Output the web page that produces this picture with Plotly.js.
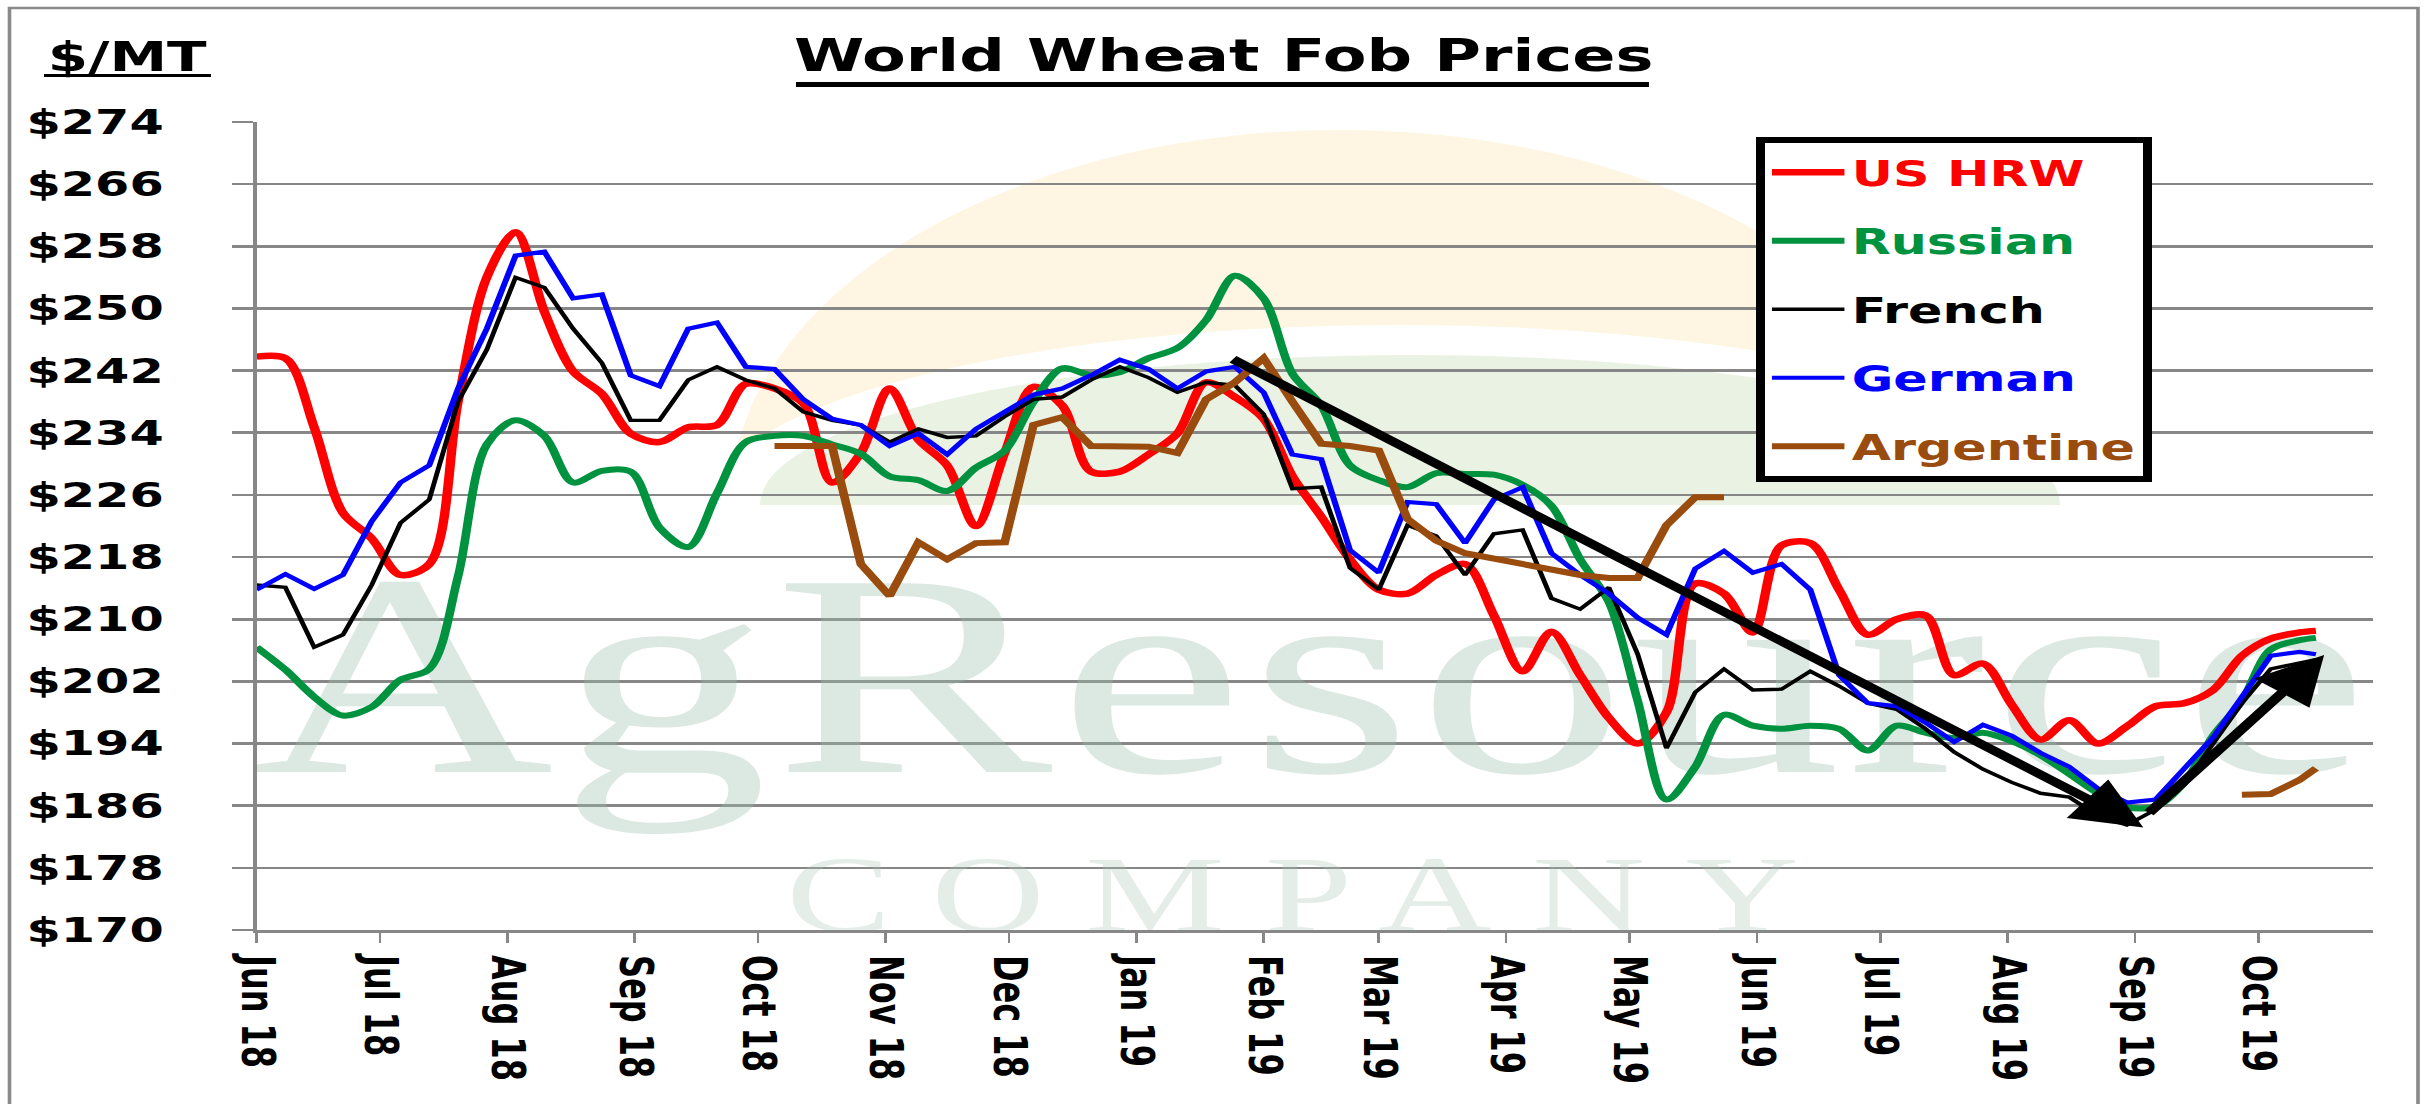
<!DOCTYPE html>
<html><head><meta charset="utf-8">
<script src="https://cdn.plot.ly/plotly-3.0.1.min.js"></script>
<style>
html,body{margin:0;padding:0;background:#fff;overflow:hidden;}
#wrap{width:2430px;height:1104px;overflow:hidden;}
#chart{width:1676px;height:1104px;transform:scaleX(1.449881);transform-origin:0 0;}
</style></head><body><div id="wrap"><div id="chart"></div></div>
<script>
// ---------------- data ----------------
const weeks = ['2018-06-01','2018-06-08','2018-06-15','2018-06-22','2018-06-29','2018-07-06','2018-07-13','2018-07-20','2018-07-27','2018-08-03',
'2018-08-10','2018-08-17','2018-08-24','2018-08-31','2018-09-07','2018-09-14','2018-09-21','2018-09-28','2018-10-05','2018-10-12',
'2018-10-19','2018-10-26','2018-11-02','2018-11-09','2018-11-16','2018-11-23','2018-11-30','2018-12-07','2018-12-14','2018-12-21',
'2018-12-28','2019-01-04','2019-01-11','2019-01-18','2019-01-25','2019-02-01','2019-02-08','2019-02-15','2019-02-22','2019-03-01',
'2019-03-08','2019-03-15','2019-03-22','2019-03-29','2019-04-05','2019-04-12','2019-04-19','2019-04-26','2019-05-03','2019-05-10',
'2019-05-17','2019-05-24','2019-05-31','2019-06-07','2019-06-14','2019-06-21','2019-06-28','2019-07-05','2019-07-12','2019-07-19',
'2019-07-26','2019-08-02','2019-08-09','2019-08-16','2019-08-23','2019-08-30','2019-09-06','2019-09-13','2019-09-20','2019-09-27',
'2019-10-04','2019-10-11','2019-10-15'];

const usHRW = [243.8,243.6,234.7,223.7,220.4,215.7,217.1,238,254,259.8,
249.6,241.9,239,233.9,232.8,234.7,235,240.3,239.7,237.8,
227.6,231.4,239.7,233.1,229.8,222,231.4,239.9,237.5,229,
229,231.2,233.9,240.5,238.6,235.8,228.4,223.2,217.7,213.8,
213.3,215.7,217.1,210.5,203.3,208.4,202.8,197.3,194,198,
214.6,213.3,208.3,219.5,219.8,213.8,208,210,210.5,202.8,
204.3,199,194.5,197,194,196.2,198.8,199.2,200.9,205.3,
207.5,208.3,208.5];

const russian = [206.4,203.5,200,197.6,198.7,202.2,203.6,215.5,232.5,235.6,
233.6,227.6,229.1,229,221.8,219.3,226.2,232.8,233.6,233.6,
232.5,231.3,228.4,227.9,226.5,229.5,231.7,238,242.3,241.4,
241.8,243.6,244.9,248.5,254.2,251.3,241.6,237.5,229.8,227.9,
227,228.8,228.7,228.6,227.3,224.6,217.7,212.2,199.5,186.8,
191,197.7,196.3,195.9,196.3,195.9,193.1,196.3,195.4,194.7,
195.4,194.3,192.5,190.1,187.6,185.8,185.9,189,195,199.5,
206.1,207.3,207.6];

const french = [214.4,214.1,206.4,208,214.4,222.4,225.4,238,244.7,254,
252.7,247.4,243,235.6,235.6,240.8,242.5,240.8,239.7,236.7,
235.6,235,232.8,234.5,233.4,233.6,236.1,238.3,238.6,240.8,
242.5,241.1,239.2,240.5,240.1,236.4,226.8,227,216.6,213.8,
222.1,220.7,215.7,221,221.5,212.7,211.3,214.1,205.5,193.4,
200.6,203.6,200.9,201,203.3,201.4,199.2,198.4,195.9,192.9,
190.7,189,187.6,187.1,184.7,183.5,185.5,188.7,194,199.2,
203.6,204.4,204.8];

const german = [213.8,215.8,213.9,215.7,222.6,227.6,229.8,239.7,247.4,256.8,
257.3,251.3,251.8,241.4,240,247.4,248.2,242.5,242.2,238.3,
235.8,235,232.3,233.9,231.2,234.5,236.7,238.9,239.7,241.4,
243.4,242.2,239.7,241.9,242.5,239.2,231.2,230.6,218.9,216,
225.1,224.8,219.8,225.4,227,218.5,215.7,213.3,210.2,208,
216.5,218.8,216,217.1,213.8,202.8,199.2,198.8,196.7,194.2,
196.4,195,192.8,191,188.2,186.4,186.8,190.8,194.8,200,
205.3,205.8,205.5];

const argentine = [null,null,null,null,null,null,null,null,null,null,
null,null,null,null,null,null,null,null,232.3,232.3,
232.3,217.1,213,219.9,217.7,219.8,219.9,235,236,232.3,
232.3,232.2,231.4,238.3,240.5,243.6,238,232.6,232.3,231.7,
222.9,220.1,218.5,217.8,217.1,216.3,215.7,215.3,215.3,222.1,
225.7,225.7,null,null,null,null,null,null,null,null,
null,null,null,null,null,null,null,null,null,187.4,
187.5,189.3,190.8];

const seriesNames = ['US HRW','Russian','French','German','Argentine'];
const seriesColors = ['#FF0000','#00923F','#000000','#0000FF','#994C0D'];

const trendDownDates = ['2019-01-24','2019-09-03'];
const trendDownVals = [243.6,183.2];
const trendUpDates = ['2019-09-04','2019-10-17'];
const trendUpVals = [184.9,205.4];

const yTicks = [170,178,186,194,202,210,218,226,234,242,250,258,266,274];
const yLabels = ['$170','$178','$186','$194','$202','$210','$218','$226','$234','$242','$250','$258','$266','$274'];
const monthTicks = ['2018-06-01','2018-07-01','2018-08-01','2018-09-01','2018-10-01','2018-11-01','2018-12-01','2019-01-01','2019-02-01','2019-03-01','2019-04-01','2019-05-01','2019-06-01','2019-07-01','2019-08-01','2019-09-01','2019-10-01'];
const monthLabels = ['Jun 18','Jul 18','Aug 18','Sep 18','Oct 18','Nov 18','Dec 18','Jan 19','Feb 19','Mar 19','Apr 19','May 19','Jun 19','Jul 19','Aug 19','Sep 19','Oct 19'];

// background logo (watermark), one text block: brand line + company line
const logoWords = ['AgResource','COMPANY'];
const logoDate = ['2019-02-13'];
const logoVal = [184.05];

// ---------------- geometry helpers (layout only) ----------------
const W = 1676, H = 1104, S = 2430 / W;
const ML = 177, MR = 39, MT = 122, MB = 174;
const PW = W - ML - MR, PH = H - MT - MB;
const px = fx => (fx / S - ML) / PW;
const py = fy => 1 - (fy - MT) / PH;
function dome(cx, cy, rx, ry) {
  const k = 0.5523;
  return 'M' + px(cx - rx) + ',' + py(cy) +
    ' C' + px(cx - rx) + ',' + py(cy - k * ry) + ' ' + px(cx - k * rx) + ',' + py(cy - ry) + ' ' + px(cx) + ',' + py(cy - ry) +
    ' C' + px(cx + k * rx) + ',' + py(cy - ry) + ' ' + px(cx + rx) + ',' + py(cy - k * ry) + ' ' + px(cx + rx) + ',' + py(cy) + ' Z';
}

// ---------------- traces ----------------
const allVals = [usHRW, russian, french, german, argentine];
const widths = [6.5, 6, 3.4, 4.2, 6];
const shapesLine = ['spline', 'spline', 'linear', 'linear', 'linear'];

const logoText = '<span style="font-size:288px;letter-spacing:4px;color:rgba(155,189,172,0.35)">' + logoWords[0] + '</span><br>' +
  '<span style="font-size:108px;letter-spacing:28px;color:rgba(165,195,178,0.30)">' + logoWords[1] + '</span>';

const traces = [{
  type: 'scatter', mode: 'text', x: logoDate, y: logoVal, text: [logoText],
  textposition: 'middle center', cliponaxis: false, hoverinfo: 'skip', showlegend: false,
  textfont: { family: 'Liberation Serif', size: 122.3, color: '#A5C3B2' }
}];
allVals.forEach((vals, i) => {
  traces.push({
    type: 'scatter', mode: 'lines', x: weeks, y: vals,
    name: '<span style="color:' + seriesColors[i] + '">' + seriesNames[i] + '</span>',
    legendgroup: 'g' + i, connectgaps: false,
    line: { color: seriesColors[i], width: widths[i], shape: shapesLine[i], smoothing: 0.9 },
    hoverinfo: 'skip'
  });
});

const arrowStyle = { xref: 'x', yref: 'y', axref: 'x', ayref: 'y', text: '', showarrow: true,
  arrowhead: 2, arrowsize: 1.2, arrowwidth: 8, arrowcolor: '#000', standoff: 0, startstandoff: 0 };

const layout = {
  width: W, height: H,
  margin: { l: ML, r: MR, t: MT, b: MB },
  paper_bgcolor: '#fff', plot_bgcolor: 'rgba(0,0,0,0)',
  title: { text: '<b>World Wheat Fob Prices</b>', font: { family: 'DejaVu Sans', size: 44, color: '#000' },
    xref: 'container', x: 844 / W, xanchor: 'center', yref: 'container', y: 1 - 56 / H, yanchor: 'middle' },
  xaxis: { type: 'date', range: ['2018-06-01', '2019-10-29'], tickmode: 'array', tickvals: monthTicks, ticktext: monthLabels,
    tickangle: 90, ticks: 'outside', ticklen: 10, tickwidth: 1.8, tickcolor: '#878787',
    showline: true, linecolor: '#878787', linewidth: 2.6, showgrid: false, zeroline: false,
    tickfont: { family: 'DejaVu Sans', size: 32, weight: 'bold', color: '#000' }, ticklabelstandoff: 6 },
  yaxis: { range: [170, 274], tickmode: 'array', tickvals: yTicks, ticktext: yLabels,
    ticks: 'outside', ticklen: 15, tickwidth: 2.6, tickcolor: '#878787',
    showgrid: true, gridcolor: '#878787', gridwidth: 2.6, showline: true, linecolor: '#878787', linewidth: 2.3, zeroline: false,
    tickfont: { family: 'DejaVu Sans', size: 34, weight: 'bold', color: '#000' }, ticklabelstandoff: 40 },
  legend: { x: px(1756), y: py(137), xanchor: 'left', yanchor: 'top', bgcolor: '#fff', bordercolor: '#000', borderwidth: 6,
    font: { family: 'DejaVu Sans', size: 35, weight: 'bold', color: '#000' }, tracegroupgap: 20, itemwidth: 50 },
  shapes: [
    { type: 'path', xref: 'paper', yref: 'paper', layer: 'below', path: dome(1340, 505, 610, 375), fillcolor: '#FEF6E3', line: { width: 0 } },
    { type: 'path', xref: 'paper', yref: 'paper', layer: 'below', path: dome(1400, 505, 690, 180), fillcolor: '#FFFFFF', line: { width: 0 } },
    { type: 'path', xref: 'paper', yref: 'paper', layer: 'below', path: dome(1410, 505, 650, 150), fillcolor: '#EAF2E4', line: { width: 0 } },
    { type: 'rect', xref: 'paper', yref: 'paper', layer: 'below', x0: px(9.5), x1: px(2418), y0: py(8), y1: py(1115), line: { color: '#8A8A8A', width: 2.5 } },
    { type: 'line', xref: 'paper', yref: 'paper', x0: px(796), x1: px(1649), y0: py(84.5), y1: py(84.5), line: { color: '#000', width: 5 } },
    { type: 'line', xref: 'paper', yref: 'paper', x0: px(44), x1: px(211), y0: py(75.5), y1: py(75.5), line: { color: '#000', width: 3 } }
  ],
  annotations: [
    { xref: 'paper', yref: 'paper', x: px(128), y: py(57.5), xanchor: 'center', yanchor: 'middle', showarrow: false,
      text: '<b>$/MT</b>', font: { family: 'DejaVu Sans', size: 40, color: '#000' } },
    Object.assign({ x: trendDownDates[1], y: trendDownVals[1], ax: trendDownDates[0], ay: trendDownVals[0] }, arrowStyle),
    Object.assign({ x: trendUpDates[1], y: trendUpVals[1], ax: trendUpDates[0], ay: trendUpVals[0] }, arrowStyle)
  ]
};

Plotly.newPlot('chart', traces, layout, { displayModeBar: false, staticPlot: true });
</script></body></html>
